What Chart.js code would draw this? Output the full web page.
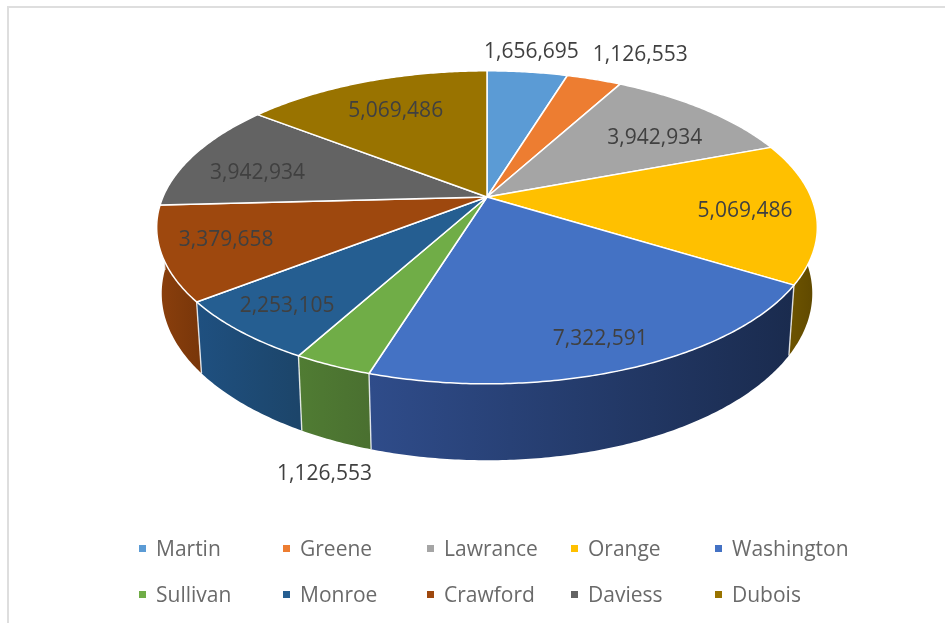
<!DOCTYPE html>
<html>
<head>
<meta charset="utf-8">
<title>Pie</title>
<script src="https://cdn.jsdelivr.net/npm/chart.js@4/dist/chart.umd.min.js"></script>
<style>
  html, body { margin: 0; padding: 0; background: #fff; overflow: hidden; }
  #frame { position: absolute; left: 7px; top: 6px; width: 938px; height: 617px;
           border-left: 2px solid #dedede; border-top: 2px solid #dedede; box-sizing: border-box; }
  #chartBox { position: absolute; left: 0; top: 0; width: 952px; height: 623px; filter: blur(0.4px); }
  #legend { position: absolute; left: 139px; top: 525px; display: grid;
            grid-template-columns: repeat(5, 144px); grid-auto-rows: 46px;
            font: 21px "Open Sans", sans-serif; color: #6a6a6a; filter: blur(0.4px); }
  #legend div { display: flex; align-items: center; height: 46px; white-space: nowrap; }
  #legend i { width: 7px; height: 7px; margin-right: 10px; flex: none; }
</style>
</head>
<body>
<div id="frame"></div>
<div id="chartBox"><canvas id="chart" width="952" height="623"></canvas></div>
<div id="legend"></div>
<script>
const counties = ['Martin', 'Greene', 'Lawrance', 'Orange', 'Washington', 'Sullivan', 'Monroe', 'Crawford', 'Daviess', 'Dubois'];
const population = [1656695, 1126553, 3942934, 5069486, 7322591, 1126553, 2253105, 3379658, 3942934, 5069486];
const topColors = ['#5b9bd5', '#ed7d31', '#a5a5a5', '#ffc000', '#4472c4', '#70ad47', '#255e91', '#9e480e', '#636363', '#997300'];
const wallLeft = ['#3a6d9c', '#a85a22', '#757575', '#6b5200', '#2f4c8a', '#507c33', '#1f5080', '#8a3f0c', '#464646', '#6c5100'];
const wallRight = ['#3a6d9c', '#a85a22', '#757575', '#614a00', '#1a2b4e', '#4a7030', '#1c456a', '#7a370a', '#464646', '#6c5100'];

// label shift in px from a point at 80% of the slice radius
const labelShift = [[11, -42], [65, -45], [-10, 13], [-4, 2], [7, 10], [-44, 148], [-9, 5], [-4, -1], [7, 10], [9, 9]];

// perspective of the disc, relative to the chart.js radius
const scaleX = 2.175, scaleY = 1.011, tilt = 0.1937, depthW = 0.015, depthY = 0.44;

function project(el, u, v, low) {
  const w = 1 - tilt * v + (low ? depthW : 0);
  const R = el.outerRadius;
  return {
    x: el.x + scaleX * R * u / w,
    y: el.y + (scaleY * R * v + (low ? depthY * R : 0)) / w
  };
}

const pie3d = {
  id: 'pie3d',
  beforeDatasetsDraw(chart) {
    const ctx = chart.ctx;
    const arcs = chart.getDatasetMeta(0).data;
    ctx.save();
    ctx.lineJoin = 'round';

    // side wall, one polygon for the front part of each slice
    const order = arcs.map((el, i) => i).sort((p, q) =>
      Math.sin((arcs[p].startAngle + arcs[p].endAngle) / 2) - Math.sin((arcs[q].startAngle + arcs[q].endAngle) / 2));
    order.forEach(i => {
      const el = arcs[i];
      const n = Math.ceil((el.endAngle - el.startAngle) / 0.01);
      const rim = [], base = [];
      for (let k = 0; k <= n; k++) {
        const t = el.startAngle + (el.endAngle - el.startAngle) * k / n;
        if (Math.sin(t) < 0) continue;
        rim.push(project(el, Math.cos(t), Math.sin(t), false));
        base.unshift(project(el, Math.cos(t), Math.sin(t), true));
      }
      if (rim.length < 2) return;
      const left = Math.min(rim[0].x, rim[rim.length - 1].x);
      const right = Math.max(rim[0].x, rim[rim.length - 1].x);
      const grad = ctx.createLinearGradient(left, 0, right, 0);
      grad.addColorStop(0, wallLeft[i]);
      grad.addColorStop(1, wallRight[i]);
      ctx.beginPath();
      rim.concat(base).forEach((q, j) => j ? ctx.lineTo(q.x, q.y) : ctx.moveTo(q.x, q.y));
      ctx.closePath();
      ctx.fillStyle = grad;
      ctx.fill();
    });

    // white seams on the wall
    ctx.strokeStyle = 'rgba(255,255,255,0.8)';
    ctx.lineWidth = 1.4;
    arcs.forEach(el => {
      const c = Math.cos(el.startAngle), s = Math.sin(el.startAngle);
      if (s <= 0) return;
      const top = project(el, c, s, false), low = project(el, c, s, true);
      ctx.beginPath();
      ctx.moveTo(top.x, top.y);
      ctx.lineTo(low.x, low.y);
      ctx.stroke();
    });

    // top face
    arcs.forEach((el, i) => {
      const centre = project(el, 0, 0, false);
      const n = Math.ceil((el.endAngle - el.startAngle) / 0.01);
      ctx.beginPath();
      ctx.moveTo(centre.x, centre.y);
      for (let k = 0; k <= n; k++) {
        const t = el.startAngle + (el.endAngle - el.startAngle) * k / n;
        const q = project(el, Math.cos(t), Math.sin(t), false);
        ctx.lineTo(q.x, q.y);
      }
      ctx.closePath();
      ctx.fillStyle = topColors[i];
      ctx.fill();
      ctx.strokeStyle = '#fff';
      ctx.lineWidth = 1.5;
      ctx.stroke();
    });

    // value labels
    ctx.font = '21px "Open Sans", sans-serif';
    ctx.fillStyle = '#404040';
    ctx.textAlign = 'center';
    ctx.textBaseline = 'middle';
    arcs.forEach((el, i) => {
      const mid = (el.startAngle + el.endAngle) / 2;
      const q = project(el, 0.8 * Math.cos(mid), 0.8 * Math.sin(mid), false);
      ctx.fillText(population[i].toLocaleString('en-US'), q.x + labelShift[i][0], q.y + labelShift[i][1]);
    });

    ctx.restore();
    return false;
  }
};

new Chart(document.getElementById('chart'), {
  type: 'pie',
  data: {
    labels: counties,
    datasets: [{ data: population, backgroundColor: topColors }]
  },
  options: {
    responsive: false,
    animation: false,
    layout: { padding: { left: 22, right: 0, top: 47, bottom: 276 } },
    plugins: { legend: { display: false }, tooltip: { enabled: false } }
  },
  plugins: [pie3d]
});

const legendBox = document.getElementById('legend');
counties.forEach((name, i) => {
  const item = document.createElement('div');
  const mark = document.createElement('i');
  mark.style.background = topColors[i];
  item.appendChild(mark);
  item.appendChild(document.createTextNode(name));
  legendBox.appendChild(item);
});
</script>
</body>
</html>
